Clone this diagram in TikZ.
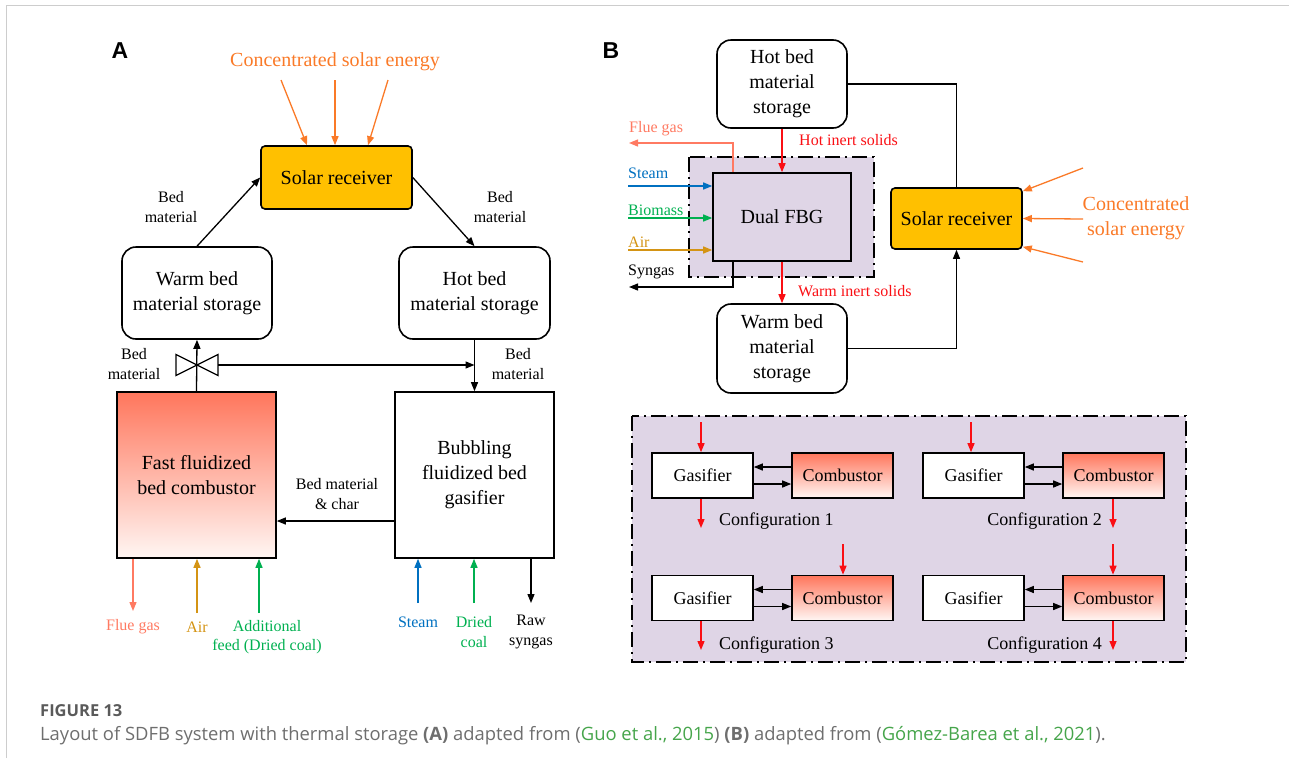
\documentclass[tikz,border=0pt]{standalone}
\usepackage{fontspec}
\setmainfont{Liberation Serif}
\newfontfamily\labfont{Liberation Sans}
\newfontfamily\capfont{Open Sans}
\usetikzlibrary{arrows.meta,calc}
\definecolor{orng}{RGB}{250,122,40}
\definecolor{solfill}{RGB}{255,192,0}
\definecolor{combtop}{RGB}{255,118,92}
\definecolor{combbot}{RGB}{255,246,243}
\definecolor{lav}{RGB}{223,213,230}
\definecolor{fluec}{RGB}{255,122,98}
\definecolor{airc}{RGB}{212,148,20}
\definecolor{grn}{RGB}{0,176,80}
\definecolor{blu}{RGB}{0,112,192}
\definecolor{redc}{RGB}{250,15,20}
\definecolor{framec}{RGB}{205,205,205}
\definecolor{capgray}{RGB}{90,90,90}
\definecolor{captext}{RGB}{110,110,110}
\definecolor{capgreen}{RGB}{70,165,75}
\tikzset{
  box/.style={draw, line width=1.6pt, align=center, inner sep=0pt},
  rbox/.style={box, rounded corners=14pt, fill=white},
  big/.style={font=\fontsize{20}{25}\selectfont},
  small/.style={font=\fontsize{16}{19.5}\selectfont, align=center, inner sep=0pt},
  cfg/.style={font=\fontsize{18}{22}\selectfont},
  arr/.style={line width=1.3pt, -{Triangle[length=9pt,width=7pt]}},
  rarr/.style={arr, draw=redc, -{Triangle[length=9pt,width=7pt,fill=redc]}},
  comb/.style={box, top color=combtop, bottom color=combbot},
  dashdot/.style={line width=2pt, dash pattern=on 15pt off 5pt on 2pt off 5pt},
  gas/.style={box, fill=white, cfg, minimum width=101pt, minimum height=45pt},
  cmb/.style={comb, cfg, minimum width=101pt, minimum height=45pt}
}
\begin{document}
\begin{tikzpicture}[x=1pt,y=-1pt]
\useasboundingbox (0,0) rectangle (1289,758);
% frame
\draw[framec, line width=1pt] (6,758) -- (6,5) -- (1289,5);

% ================= Panel A =================
\node[font=\labfont\bfseries\fontsize{23}{23}\selectfont, inner sep=0pt] (labA) at (120,51) {A};
\node[big, text=orng, inner sep=0pt] (csA) at (335,62) {Concentrated solar energy};
\node[box, big, fill=solfill, rounded corners=4pt, minimum width=151pt, minimum height=63pt] (srA) at (336.5,177.5) {Solar receiver};
\coordinate (oA1) at (281,80);
\coordinate (oA2) at (335,80);
\coordinate (oA3) at (388,80);
\draw[arr, draw=orng, -{Triangle[length=9pt,width=7pt,fill=orng]}] (oA1) -- ([xshift=-29.5pt]srA.north);
\draw[arr, draw=orng, -{Triangle[length=9pt,width=7pt,fill=orng]}] (oA2) -- ([xshift=-1.5pt]srA.north);
\draw[arr, draw=orng, -{Triangle[length=9pt,width=7pt,fill=orng]}] (oA3) -- ([xshift=31.5pt]srA.north);

\node[rbox, big, minimum width=150pt, minimum height=92pt] (warmA) at (197,293) {Warm bed\\material storage};
\node[rbox, big, minimum width=151pt, minimum height=92pt] (hotA) at (474.5,293) {Hot bed\\material storage};
\node[comb, big, minimum width=159pt, minimum height=166pt] (combA) at (196.5,475) {Fast fluidized\\bed combustor};
\node[box, big, fill=white, minimum width=159pt, minimum height=166pt] (bubA) at (474.5,475) {Bubbling\\fluidized bed\\gasifier};

\draw[arr] (warmA.north) -- (srA.west);
\draw[arr] (srA.east) -- (hotA.north);
\node[small] (bmA1) at (171,207) {Bed\\material};
\node[small] (bmA2) at (500,207) {Bed\\material};

% valve
\coordinate (valve) at (197,365);
\draw[line width=1.3pt] (valve) -- ++(-21,-10.5) -- ++(0,21) -- cycle;
\draw[line width=1.3pt] (valve) -- ++(21,-10.5) -- ++(0,21) -- cycle;
\draw[arr] (combA.north) -- (warmA.south);
\draw[arr] ([xshift=21pt]valve) -- (valve -| hotA.south);
\draw[arr] (hotA.south) -- (bubA.north);
\node[small] (bmA3) at (134,364) {Bed\\material};
\node[small] (bmA4) at (518,364) {Bed\\material};

\draw[arr] ([yshift=-46pt]bubA.west) -- ([yshift=-46pt]combA.east);
\node[small] (bmc) at (337,494) {Bed material\\\& char};

% bottom streams A
\coordinate (flueA) at (133,611);
\coordinate (airA) at (197,613);
\coordinate (addA) at (259,613);
\coordinate (steamA) at (418,603);
\coordinate (coalA) at (474,603);
\coordinate (synA) at (531,603);
\draw[arr, draw=fluec, -{Triangle[length=9pt,width=7pt,fill=fluec]}] (flueA |- combA.south) -- (flueA);
\draw[arr, draw=airc, -{Triangle[length=9pt,width=7pt,fill=airc]}] (airA) -- (airA |- combA.south);
\draw[arr, draw=grn, -{Triangle[length=9pt,width=7pt,fill=grn]}] (addA) -- (addA |- combA.south);
\draw[arr, draw=blu, -{Triangle[length=9pt,width=7pt,fill=blu]}] (steamA) -- (steamA |- bubA.south);
\draw[arr, draw=grn, -{Triangle[length=9pt,width=7pt,fill=grn]}] (coalA) -- (coalA |- bubA.south);
\draw[arr] (synA |- bubA.south) -- (synA);
\node[small, text=fluec] (lflA) at (133,627) {Flue gas};
\node[small, text=airc] (lairA) at (197,627) {Air};
\node[small, text=grn] (laddA) at (267,637) {Additional\\feed (Dried coal)};
\node[small, text=blu] (lstA) at (418,622) {Steam};
\node[small, text=grn] (lcoA) at (474,632) {Dried\\coal};
\node[small] (lsyA) at (531,632) {Raw\\syngas};

% ================= Panel B =================
\node[font=\labfont\bfseries\fontsize{23}{23}\selectfont, inner sep=0pt] (labB) at (611,51) {B};
\node[rbox, big, minimum width=130pt, minimum height=88pt] (hotB) at (782,84) {Hot bed\\material\\storage};
\node[rbox, big, minimum width=130pt, minimum height=89pt] (warmB) at (782,348.5) {Warm bed\\material\\storage};
\node[box, big, fill=solfill, rounded corners=4pt, minimum width=131pt, minimum height=61pt] (srB) at (956.5,218.5) {Solar receiver};
\fill[lav] (689,157) rectangle (874,277);
\draw[dashdot] (689,157) rectangle (874,277);
\node[box, big, fill=lav, minimum width=138pt, minimum height=88pt] (dual) at (782,217) {Dual FBG};

\draw[line width=1.3pt] (hotB.east) -| (srB.north);
\draw[arr] (warmB.east) -| (srB.south);
\draw[rarr] (hotB.south) -- (dual.north);
\draw[rarr] (dual.south) -- (warmB.north);
\node[small, text=redc, anchor=west] (lhot) at (799,140) {Hot inert solids};
\node[small, text=redc, anchor=west] (lwarm) at (798,291) {Warm inert solids};

\coordinate (bFlue) at (629,143);
\coordinate (bSteam) at (628,186);
\coordinate (bBio) at (628,218);
\coordinate (bAir) at (628,250);
\coordinate (bSyn) at (629,287);
\draw[arr, draw=fluec, -{Triangle[length=9pt,width=7pt,fill=fluec]}] ([xshift=-49pt]dual.north) |- (bFlue);
\draw[arr, draw=blu, -{Triangle[length=9pt,width=7pt,fill=blu]}] (bSteam) -- (bSteam -| dual.west);
\draw[arr, draw=grn, -{Triangle[length=9pt,width=7pt,fill=grn]}] (bBio) -- (bBio -| dual.west);
\draw[arr, draw=airc, -{Triangle[length=9pt,width=7pt,fill=airc]}] (bAir) -- (bAir -| dual.west);
\draw[arr] ([xshift=-49pt]dual.south) |- (bSyn);
\node[small, text=fluec, anchor=west] (lflB) at (629,129) {Flue gas};
\node[small, text=blu, anchor=west] (lstB) at (628,173) {Steam};
\node[small, text=grn, anchor=west] (lbioB) at (628,210) {Biomass};
\node[small, text=airc, anchor=west] (lairB) at (628,242) {Air};
\node[small, anchor=west] (lsyB) at (628,272) {Syngas};

\coordinate (oB1) at (1083,168);
\coordinate (oB2) at (1083,219);
\coordinate (oB3) at (1083,262);
\draw[arr, draw=orng, -{Triangle[length=9pt,width=7pt,fill=orng]}] (oB1) -- ([yshift=-4pt]srB.north east);
\draw[arr, draw=orng, -{Triangle[length=9pt,width=7pt,fill=orng]}] (oB2) -- (srB.east);
\draw[arr, draw=orng, -{Triangle[length=9pt,width=7pt,fill=orng]}] (oB3) -- ([yshift=3pt]srB.south east);
\node[big, text=orng, align=center, inner sep=0pt] (csB) at (1136,218) {Concentrated\\solar energy};

% ================= Configurations =================
\fill[lav] (632,416) rectangle (1186,662);
\draw[dashdot] (632,416) rectangle (1186,662);

\node[gas] (g1) at (702.5,475.5) {Gasifier};
\node[cmb] (c1) at (842.5,475.5) {Combustor};
\node[gas] (g2) at (973.5,475.5) {Gasifier};
\node[cmb] (c2) at (1113.5,475.5) {Combustor};
\node[gas] (g3) at (702.5,598) {Gasifier};
\node[cmb] (c3) at (842.5,598) {Combustor};
\node[gas] (g4) at (973.5,598) {Gasifier};
\node[cmb] (c4) at (1113.5,598) {Combustor};

\foreach \g/\c in {g1/c1,g2/c2,g3/c3,g4/c4}{
  \draw[arr] ([yshift=8.5pt]\c.west) -- ([yshift=8.5pt]\g.east);
  \draw[arr] ([yshift=-8.5pt]\g.east) -- ([yshift=-8.5pt]\c.west);
}

\coordinate (r1i) at (701,422);  \coordinate (r1o) at (701,528);
\coordinate (r2i) at (971,422);  \coordinate (r2o) at (1113,528);
\coordinate (r3i) at (843,544);  \coordinate (r3o) at (701,650);
\coordinate (r4i) at (1113,544); \coordinate (r4o) at (1113,650);
\draw[rarr] (r1i) -- (r1i |- g1.north);
\draw[rarr] (r1o |- g1.south) -- (r1o);
\draw[rarr] (r2i) -- (r2i |- g2.north);
\draw[rarr] (r2o |- c2.south) -- (r2o);
\draw[rarr] (r3i) -- (r3i |- c3.north);
\draw[rarr] (r3o |- g3.south) -- (r3o);
\draw[rarr] (r4i) -- (r4i |- c4.north);
\draw[rarr] (r4o |- c4.south) -- (r4o);

\node[cfg, anchor=west, inner sep=0pt] (cf1) at (719,521) {Configuration 1};
\node[cfg, anchor=east, inner sep=0pt] (cf2) at (1102,521) {Configuration 2};
\node[cfg, anchor=west, inner sep=0pt] (cf3) at (719,645) {Configuration 3};
\node[cfg, anchor=east, inner sep=0pt] (cf4) at (1102,645) {Configuration 4};

% ================= Caption =================
\node[anchor=west, inner sep=0pt, text=capgray, font=\capfont\bfseries\fontsize{16.5}{20}\selectfont] (fig) at (40,711) {FIGURE 13};
\node[anchor=west, inner sep=0pt, text=captext, font=\capfont\fontsize{18.4}{22}\selectfont] (cap) at (40,736) {Layout of SDFB system with thermal storage \textbf{(A)} adapted from (\textcolor{capgreen}{Guo et al., 2015}) \textbf{(B)} adapted from (\textcolor{capgreen}{Gómez-Barea et al., 2021}).};
\end{tikzpicture}
\end{document}
